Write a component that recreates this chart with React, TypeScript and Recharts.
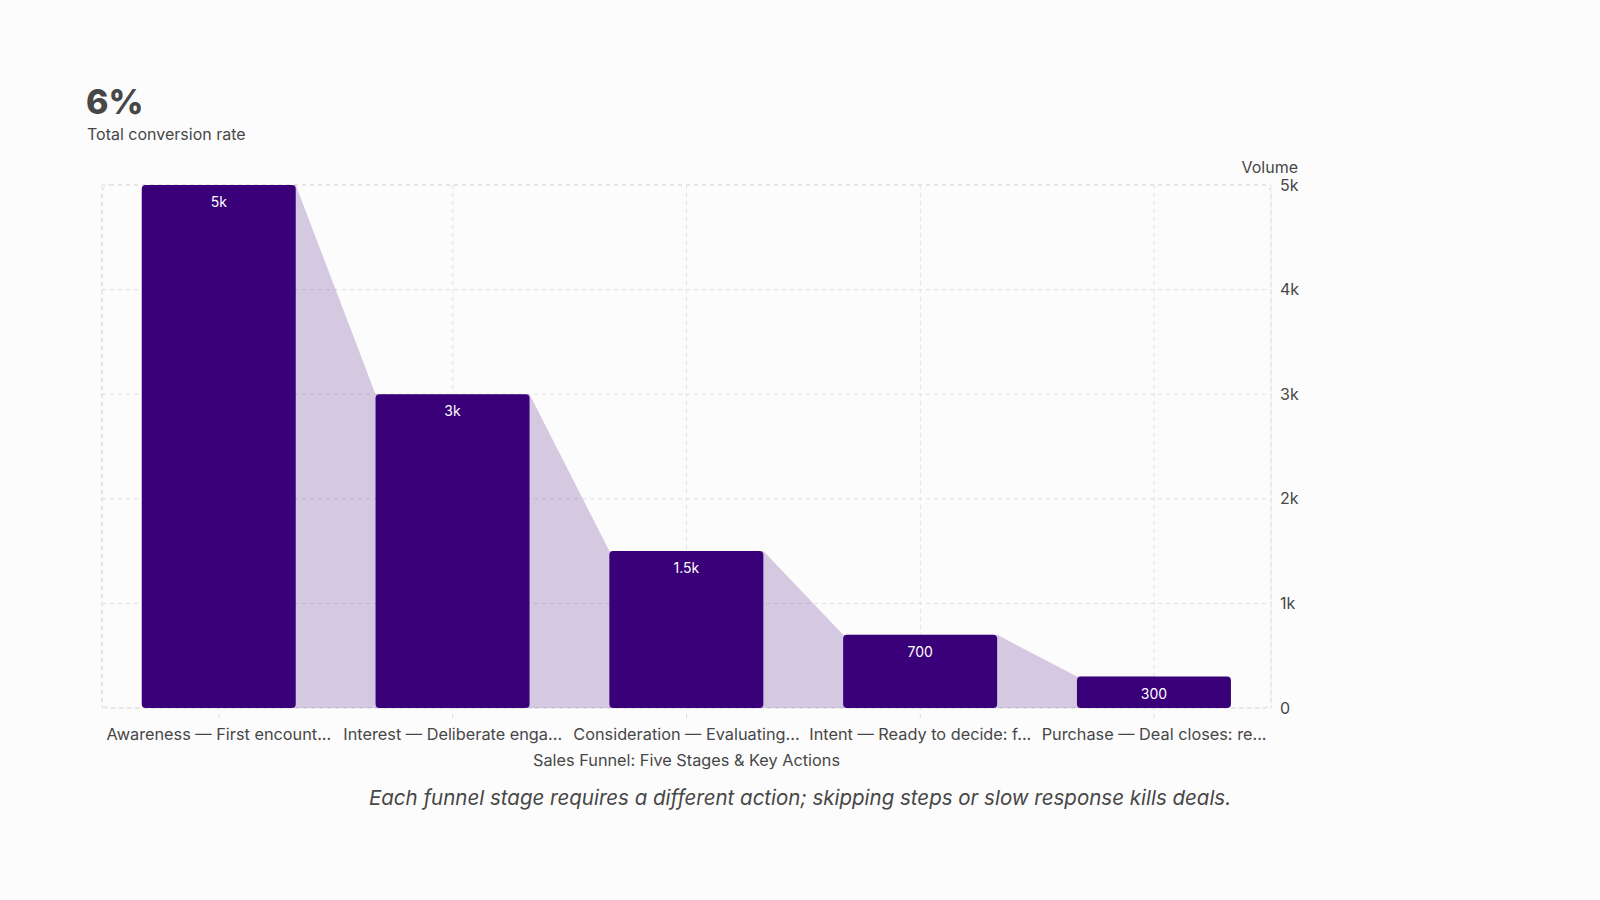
import { BarChart, Bar, XAxis, YAxis, CartesianGrid, LabelList, ReferenceArea, Rectangle } from "recharts";

const stages = [
  "Awareness — First encount...",
  "Interest — Deliberate enga...",
  "Consideration — Evaluating...",
  "Intent — Ready to decide: f...",
  "Purchase — Deal closes: re...",
];
const volumes = [5000, 3000, 1500, 700, 300];
const volumeTicks = [0, 1000, 2000, 3000, 4000, 5000];

const data = stages.map((stage, i) => ({ stage, volume: volumes[i] }));

const W = 1600;
const H = 900;
const MARGIN = { top: 185, left: 102, right: 269, bottom: 129 };
const Y_AXIS_W = 60;
const STEP = (W - MARGIN.left - MARGIN.right - Y_AXIS_W) / stages.length;

const BAR = "#3a0079";
const TEXT = "#474747";
const FONT = "Inter, 'Noto Sans', sans-serif";

const fmt = (v: number) => (v >= 1000 ? `${v / 1000}k` : `${v}`);

// bar plus the shaded trapezoid leading down to the next stage
const FunnelBar = (props: any) => {
  const { x, y, width, height, index } = props;
  const base = y + height;
  const next = volumes[index + 1];
  let connector = null;
  if (next !== undefined) {
    const nh = (height * next) / volumes[index];
    const nx = x + STEP;
    const pts = [
      [x + width / 2, y],
      [x + width, y],
      [nx, base - nh],
      [nx + width / 2, base - nh],
      [nx + width / 2, base],
      [x + width / 2, base],
    ]
      .map((p) => p.join(","))
      .join(" ");
    connector = <polygon points={pts} fill={BAR} fillOpacity={0.2} />;
  }
  return (
    <g>
      {connector}
      <Rectangle x={x} y={y} width={width} height={height} radius={4} fill={BAR} />
    </g>
  );
};

const PlotBorder = (props: any) => (
  <rect
    x={props.x}
    y={props.y}
    width={props.width}
    height={props.height}
    rx={8}
    fill="none"
    stroke="#dcdcdc"
    strokeDasharray="4 4"
  />
);

export default function App() {
  return (
    <div
      style={{
        position: "absolute",
        left: 0,
        top: 0,
        width: W,
        height: H,
        background: "#fcfcfc",
        fontFamily: FONT,
        color: TEXT,
      }}
    >
      <div style={{ position: "absolute", left: 86, top: 82, fontSize: 34, fontWeight: 800, lineHeight: "40px" }}>
        6%
      </div>
      <div style={{ position: "absolute", left: 87, top: 124, fontSize: 16, lineHeight: "20px" }}>
        Total conversion rate
      </div>
      <div style={{ position: "absolute", right: 302, top: 157, fontSize: 16, lineHeight: "20px" }}>Volume</div>

      <div style={{ position: "absolute", left: 0, top: 0 }}>
        <BarChart width={W} height={H} data={data} margin={MARGIN} barCategoryGap="17%">
          <CartesianGrid stroke="#e0e0e0" strokeDasharray="4 4" />
          <ReferenceArea y1={0} y2={5000} shape={<PlotBorder />} ifOverflow="visible" />
          <XAxis
            dataKey="stage"
            interval={0}
            height={63}
            tickSize={10}
            tickMargin={10}
            axisLine={false}
            tickLine={{ stroke: "#dcdcdc", strokeDasharray: "4 4" }}
            tick={{ fill: TEXT, fontSize: 16.3, fontFamily: FONT }}
            label={{
              value: "Sales Funnel: Five Stages & Key Actions",
              position: "insideBottom",
              fill: TEXT,
              fontSize: 16.3,
              fontFamily: FONT,
            }}
          />
          <YAxis
            orientation="right"
            width={Y_AXIS_W}
            domain={[0, 5000]}
            ticks={volumeTicks}
            tickFormatter={fmt}
            axisLine={false}
            tickLine={false}
            tickMargin={3}
            tick={{ fill: TEXT, fontSize: 16, fontFamily: FONT, textAnchor: "start" }}
          />
          <Bar dataKey="volume" shape={<FunnelBar />} isAnimationActive={false}>
            <LabelList
              dataKey="volume"
              position="insideTop"
              offset={12}
              formatter={(v: any) => fmt(Number(v))}
              fill="#ffffff"
              fontSize={14}
              fontFamily={FONT}
            />
          </Bar>
        </BarChart>
      </div>

      <div
        style={{
          position: "absolute",
          left: 0,
          width: W,
          top: 785,
          textAlign: "center",
          fontSize: 20.5,
          fontStyle: "italic",
          lineHeight: "26px",
        }}
      >
        Each funnel stage requires a different action; skipping steps or slow response kills deals.
      </div>
    </div>
  );
}
